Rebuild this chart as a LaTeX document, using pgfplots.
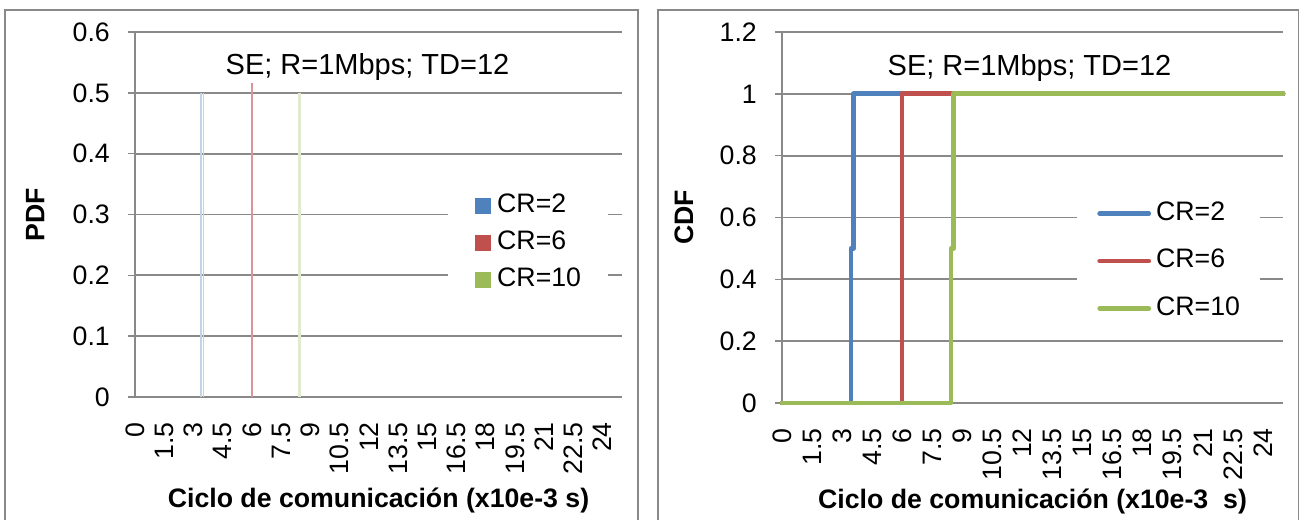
\documentclass[border=0pt]{standalone}
\usepackage{fontspec}
\setmainfont{Liberation Sans}
\usepackage{pgfplots}
\pgfplotsset{compat=1.18}
\definecolor{exblue}{HTML}{4F81BD}
\definecolor{exred}{HTML}{C0504D}
\definecolor{exgreen}{HTML}{9BBB59}
\definecolor{gridc}{HTML}{898989}
\newcommand{\tf}{\fontsize{26.7pt}{32pt}\selectfont}
\newcommand{\ttf}{\fontsize{29pt}{34pt}\selectfont}
\pgfplotsset{excel/.style={
  scale only axis,
  axis x line*=bottom, axis y line*=left,
  axis line style={gridc, line width=1.5pt},
  ymajorgrids, grid style={gridc, line width=1.8pt},
  xmin=0, xmax=25,
  xtick={0,1.5,3,4.5,6,7.5,9,10.5,12,13.5,15,16.5,18,19.5,21,22.5,24},
  xtick style={draw=none},
  ytick style={gridc, line width=1.5pt},
  tick align=outside, major tick length=7pt,
  x tick label style={rotate=90, anchor=east, inner sep=0pt},
  y tick label style={anchor=east, inner sep=0pt},
  tick label style={font=\tf},
  xticklabel shift=18pt, yticklabel shift=18pt,
  /pgf/number format/assume math mode=true,
  /pgf/number format/fixed,
  label style={font=\tf\bfseries},
  legend cell align=left,
}}
\begin{document}
\begin{tikzpicture}
\path[use as bounding box] (0,0) rectangle (1300pt,519pt);
\draw[gridc, line width=1.5pt] (5pt,-10pt) rectangle (638pt,509pt);
\draw[gridc, line width=1.5pt] (658pt,-10pt) rectangle (1298.5pt,509pt);
% ---------- PDF ----------
\begin{axis}[excel,
  at={(135pt,122pt)}, anchor=south west,
  width=487pt, height=365pt,
  ymin=0, ymax=0.6, ytick={0,0.1,0.2,0.3,0.4,0.5,0.6},
  ylabel={PDF},
  ylabel style={at={(axis description cs:-0.205,0.5)}, anchor=center},
  xlabel={Ciclo de comunicación (x10e-3 s)},
  xlabel style={at={(axis description cs:0.5,0)}, anchor=base, yshift=-110pt},
  legend style={at={(axis description cs:0.6427,0.574)}, anchor=north west,
    draw=none, fill=white, font=\tf, inner xsep=27pt, inner ysep=6pt,
    row sep=12pt, column sep=6pt,
    nodes={inner sep=0pt, text height=19pt, text depth=6pt}},
]
\addplot[ycomb, color=exblue!35, line width=1.6pt,
  legend image code/.code={\fill[exblue] (0pt,-7pt) rectangle (14pt,7pt);}]
  coordinates {(3.39,0.5) (3.52,0.5)};
\addlegendentry{CR=2}
\addplot[ycomb, color=exred!60, line width=2pt,
  legend image code/.code={\fill[exred] (0pt,-7pt) rectangle (14pt,7pt);}]
  coordinates {(5.99,0.535) (5.99,0.465)};
\addlegendentry{CR=6}
\addplot[ycomb, color=exgreen!30, line width=1.8pt,
  legend image code/.code={\fill[exgreen] (0pt,-7pt) rectangle (14pt,7pt);}]
  coordinates {(8.43,0.5) (8.45,0.5)};
\addlegendentry{CR=10}
\end{axis}
\node[font=\ttf, fill=white, inner sep=2pt, anchor=base] at (367.5pt,444pt) {SE; R=1Mbps; TD=12};
% ---------- CDF ----------
\begin{axis}[excel,
  at={(782pt,116pt)}, anchor=south west,
  width=501pt, height=371pt,
  ymin=0, ymax=1.2, ytick={0,0.2,0.4,0.6,0.8,1,1.2},
  ylabel={CDF},
  ylabel style={at={(axis description cs:-0.196,0.5)}, anchor=center},
  xlabel={Ciclo de comunicación (x10e-3~ s)},
  xlabel style={at={(axis description cs:0.5,0)}, anchor=base, yshift=-105pt},
  clip=false,
  legend style={at={(axis description cs:0.589,0.561)}, anchor=north west,
    draw=none, fill=white, font=\tf, inner xsep=20pt, inner ysep=6pt,
    row sep=22.5pt, column sep=5pt,
    nodes={inner sep=0pt, text height=19pt, text depth=6pt}},
  every axis plot/.append style={line width=4.8pt, line join=round, line cap=round},
  legend image code/.code={\draw (5pt,0pt) -- (54pt,0pt);},
]
\addplot[exblue] coordinates {(0,0) (3.44,0) (3.44,0.5) (3.57,0.5) (3.57,1) (25,1)};
\addlegendentry{CR=2}
\addplot[exred] coordinates {(0,0) (5.99,0) (5.99,1) (25,1)};
\addlegendentry{CR=6}
\addplot[exgreen] coordinates {(0,0) (8.43,0) (8.43,0.5) (8.55,0.5) (8.55,1) (25,1)};
\addlegendentry{CR=10}
\end{axis}
\node[font=\ttf, fill=white, inner sep=2pt, anchor=base] at (1029.5pt,443pt) {SE; R=1Mbps; TD=12};
\end{tikzpicture}
\end{document}
